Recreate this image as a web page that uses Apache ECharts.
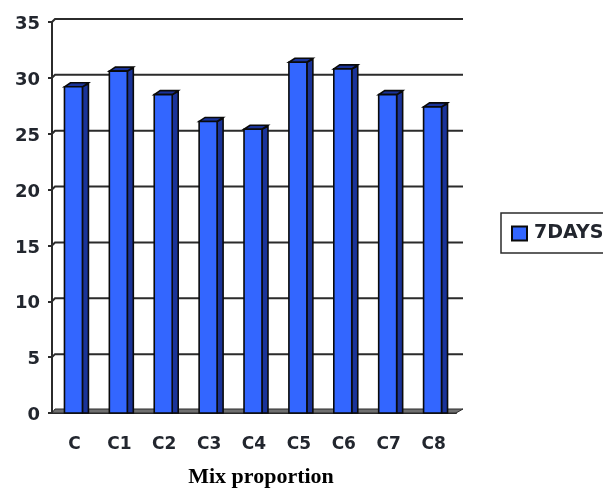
<!DOCTYPE html>
<html>
<head>
<meta charset="utf-8">
<style>html,body{margin:0;padding:0;background:#fff;overflow:hidden}#chart{width:603px;height:488px}</style>
<script src="https://cdn.jsdelivr.net/npm/echarts@6/dist/echarts.min.js"></script>
</head>
<body>
<div id="chart"></div>
<script>
// Compressive strength at 7 days for each mix
const categories = ['C', 'C1', 'C2', 'C3', 'C4', 'C5', 'C6', 'C7', 'C8'];
const strength7Days = [29.2, 30.6, 28.5, 26.1, 25.4, 31.4, 30.8, 28.5, 27.4];
const yTicks = [0, 5, 10, 15, 20, 25, 30, 35];

const FRONT = '#3366ff', SIDE = '#1a3399', EDGE = '#0a0a0a', LINE = '#2b2b2b', INK = '#22262e';
const DEPTH_X = 6, DEPTH_Y = 3;
const LABEL_FONT = 'DejaVu Sans';

// Back-wall gridlines, stepping from the axis into the chart's depth
function renderWall(params, api) {
  const sys = params.coordSys;
  const y = api.coord([0, api.value(0)])[1];
  const x0 = sys.x, x1 = sys.x + sys.width + 7;
  if (api.value(0) === 0) {
    return {
      type: 'polygon', silent: true,
      shape: { points: [[x0, y], [x0 + 3, y - DEPTH_Y - 1], [x1, y - DEPTH_Y - 1], [x1 - 7, y]] },
      style: { fill: '#707070', stroke: LINE, lineWidth: 1 }
    };
  }
  return {
    type: 'polyline', silent: true,
    shape: { points: [[x0, y], [x0 + 3, y - DEPTH_Y], [x1, y - DEPTH_Y]] },
    style: { fill: null, stroke: LINE, lineWidth: 2 }
  };
}

// Extruded column: front face, side face and top face
function renderBar(params, api) {
  const top = api.coord([api.value(0), api.value(1)]);
  const base = api.coord([api.value(0), 0]);
  const w = api.size([1, 0])[0] * 0.4;
  const l = top[0] - w / 2 - 1, r = l + w;
  const style = fill => ({ fill, stroke: EDGE, lineWidth: 1.6 });
  return {
    type: 'group',
    children: [
      { type: 'polygon', shape: { points: [[r, top[1]], [r + DEPTH_X, top[1] - DEPTH_Y], [r + DEPTH_X, base[1] - DEPTH_Y], [r + DEPTH_X, base[1]], [r, base[1]]] }, style: style(SIDE) },
      { type: 'polygon', shape: { points: [[l, top[1]], [l + DEPTH_X, top[1] - DEPTH_Y - 1], [r + DEPTH_X, top[1] - DEPTH_Y - 1], [r, top[1]]] }, style: style(SIDE) },
      { type: 'rect', shape: { x: l, y: top[1], width: w, height: base[1] - top[1] }, style: style(FRONT) }
    ]
  };
}

const chart = echarts.init(document.getElementById('chart'), null, { renderer: 'canvas' });
chart.setOption({
  animation: false,
  backgroundColor: '#fff',
  grid: { left: 52, top: 22, width: 404, height: 391, containLabel: false, outerBoundsMode: 'none' },
  legend: {
    left: 501, top: 213, orient: 'vertical',
    padding: [11, 14, 10, 10],
    borderColor: LINE, borderWidth: 1.5, borderRadius: 0,
    itemWidth: 15, itemHeight: 14, itemGap: 0,
    data: [{ name: '7DAYS', icon: 'rect' }],
    textStyle: { color: INK, fontFamily: LABEL_FONT, fontWeight: 'bold', fontSize: 19, padding: [0, 0, 0, 2] }
  },
  xAxis: {
    type: 'category',
    data: categories,
    name: 'Mix proportion',
    nameLocation: 'middle',
    nameGap: 53,
    nameTextStyle: { color: '#000', fontFamily: 'Liberation Serif', fontWeight: 'bold', fontSize: 22, padding: [0, 0, 0, 14] },
    axisLine: { lineStyle: { color: LINE, width: 2 } },
    axisTick: { length: 5, lineStyle: { color: LINE, width: 2 } },
    axisLabel: { color: INK, fontFamily: LABEL_FONT, fontWeight: 'bold', fontSize: 17, margin: 23 },
    splitLine: { show: false }
  },
  yAxis: {
    type: 'value', min: 0, max: 35, interval: 5,
    axisLine: { show: true, lineStyle: { color: LINE, width: 2 } },
    axisTick: { show: true, length: 4, lineStyle: { color: LINE, width: 2 } },
    axisLabel: { color: INK, fontFamily: LABEL_FONT, fontWeight: 'bold', fontSize: 18, margin: 12, verticalAlign: 'top', lineHeight: 5 },
    splitLine: { show: false }
  },
  series: [
    {
      type: 'custom', name: 'wall', silent: true, z: 1,
      coordinateSystem: 'cartesian2d',
      encode: { y: 0 },
      data: yTicks.map(v => [v]),
      renderItem: renderWall
    },
    {
      type: 'custom', name: '7DAYS', z: 2,
      coordinateSystem: 'cartesian2d',
      encode: { x: 0, y: 1 },
      itemStyle: { color: FRONT, borderColor: EDGE, borderWidth: 1.5 },
      data: strength7Days.map((v, i) => [i, v]),
      renderItem: renderBar
    }
  ]
});
</script>
</body>
</html>
